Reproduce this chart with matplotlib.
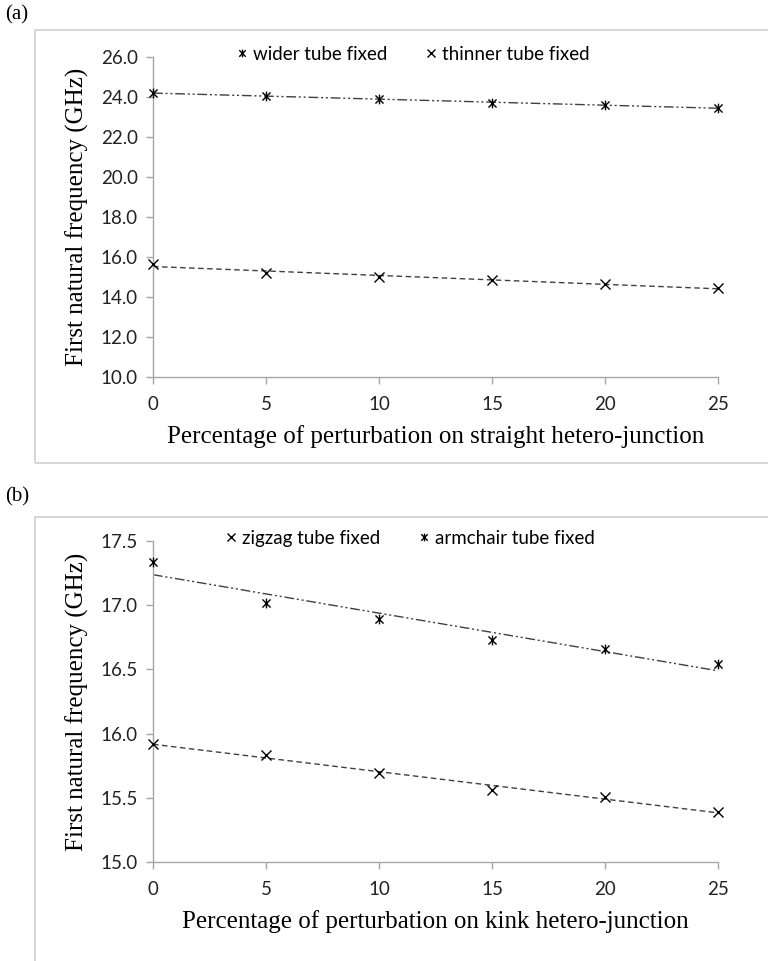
import numpy as np
import matplotlib
matplotlib.use("Agg")
import matplotlib.pyplot as plt
from matplotlib.path import Path
from matplotlib.patches import Rectangle

# Data
pct = [0, 5, 10, 15, 20, 25]

wider_fixed = [24.2, 24.05, 23.9, 23.7, 23.6, 23.45]
thinner_fixed = [15.65, 15.2, 15.0, 14.85, 14.65, 14.45]

zigzag_fixed = [15.92, 15.83, 15.69, 15.56, 15.51, 15.39]
armchair_fixed = [17.34, 17.02, 16.89, 16.73, 16.66, 16.54]

yticks_a = [10.0, 12.0, 14.0, 16.0, 18.0, 20.0, 22.0, 24.0, 26.0]
yticks_b = [15.0, 15.5, 16.0, 16.5, 17.0, 17.5]

# Excel style "star" marker: an x with a vertical bar
star = Path([(-1, -1), (1, 1), (-1, 1), (1, -1), (0, -1.2), (0, 1.2)],
            [Path.MOVETO, Path.LINETO, Path.MOVETO, Path.LINETO, Path.MOVETO, Path.LINETO])

sans = ["Lato", "DejaVu Sans"]
serif = ["Liberation Serif", "DejaVu Serif"]
axis_grey = "#a6a6a6"

fig = plt.figure(figsize=(7.68, 9.61), dpi=100)


def px(x0, y0, x1, y1):
    # pixel box -> figure fraction rect
    return [x0 / 768, 1 - y1 / 961, (x1 - x0) / 768, (y1 - y0) / 961]


# chart area frames
fig.patches.append(Rectangle((35 / 768, 1 - 463 / 961), 760 / 768, 433 / 961,
                             transform=fig.transFigure, fill=False, ec="#d0d0d0", lw=1.2))
fig.patches.append(Rectangle((35 / 768, -0.05), 760 / 768, 1 - 517 / 961 + 0.05,
                             transform=fig.transFigure, fill=False, ec="#d0d0d0", lw=1.2))

fig.text(5 / 768, 1 - 15 / 961, "(a)", family=serif, fontsize=15, va="center")
fig.text(5 / 768, 1 - 497 / 961, "(b)", family=serif, fontsize=15, va="center")


def trend(ax, y, ls):
    k, b = np.polyfit(pct, y, 1)
    xs = np.array([pct[0], pct[-1]])
    ax.plot(xs, k * xs + b, color="#404040", lw=1.0, ls=ls, zorder=2)


def style(ax, yticks, xlabel):
    ax.set_xlim(pct[0], pct[-1])
    ax.set_ylim(yticks[0], yticks[-1])
    ax.set_xticks(pct)
    ax.set_yticks(yticks)
    ax.set_yticklabels(["{:.1f}".format(v) for v in yticks])
    for s in ["top", "right"]:
        ax.spines[s].set_visible(False)
    for s in ["left", "bottom"]:
        ax.spines[s].set_color(axis_grey)
        ax.spines[s].set_linewidth(1.0)
    ax.tick_params(axis="both", colors=axis_grey, direction="out", length=5, width=1.0,
                   labelcolor="#222222", labelsize=13.5)
    ax.tick_params(axis="x", pad=9)
    ax.tick_params(axis="y", pad=6)
    for lab in ax.get_xticklabels() + ax.get_yticklabels():
        lab.set_family(sans)
    ax.set_xlabel(xlabel, family=serif, fontsize=18, labelpad=8)
    ax.set_ylabel("First natural frequency (GHz)", family=serif, fontsize=18, labelpad=8)


dashdotdot = (0, (7, 2, 1.5, 2, 1.5, 2))
dashed = (0, (4, 2.5))
leg_kw = dict(loc="lower center", ncol=2, frameon=False,
              prop={"family": sans, "size": 13.5}, handlelength=0.6, handletextpad=0.3,
              columnspacing=2.0)

# panel (a)
ax1 = fig.add_axes(px(153, 57, 718, 377))
trend(ax1, wider_fixed, dashdotdot)
trend(ax1, thinner_fixed, dashed)
ax1.plot(pct, wider_fixed, ls="none", marker=star, ms=7, mew=1.0, color="black",
         label="wider tube fixed", clip_on=False, zorder=3)
ax1.plot(pct, thinner_fixed, ls="none", marker="x", ms=7, mew=1.0, color="black",
         label="thinner tube fixed", clip_on=False, zorder=3)
style(ax1, yticks_a, "Percentage of perturbation on straight hetero-junction")
ax1.legend(bbox_to_anchor=(0.46, 0.93), markerscale=0.8, **leg_kw)

# panel (b)
ax2 = fig.add_axes(px(153, 541, 718, 862))
trend(ax2, armchair_fixed, dashdotdot)
trend(ax2, zigzag_fixed, dashed)
ax2.plot(pct, zigzag_fixed, ls="none", marker="x", ms=7, mew=1.0, color="black",
         label="zigzag tube fixed", clip_on=False, zorder=3)
ax2.plot(pct, armchair_fixed, ls="none", marker=star, ms=7, mew=1.0, color="black",
         label="armchair tube fixed", clip_on=False, zorder=3)
style(ax2, yticks_b, "Percentage of perturbation on kink hetero-junction")
ax2.legend(bbox_to_anchor=(0.455, 0.93), markerscale=0.8, **leg_kw)

fig.savefig("out.png", dpi=100)
